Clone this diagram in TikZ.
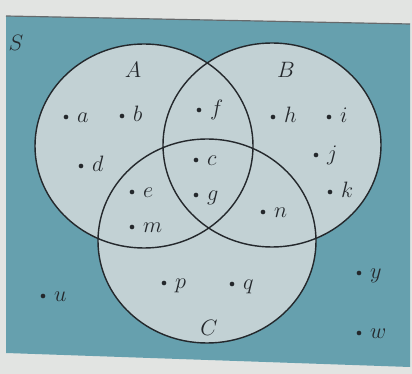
\RequirePackage{fix-cm}
\documentclass[tikz,border=0pt]{standalone}
\usetikzlibrary{positioning}

\definecolor{pagebg}{RGB}{226,228,226}
\definecolor{tealbg}{RGB}{102,160,174}
\definecolor{setfill}{RGB}{194,209,212}
\definecolor{inkline}{RGB}{36,40,44}

\begin{document}
\begin{tikzpicture}[
  x=0.03cm, y=-0.03cm,
  elem/.style={circle, fill=inkline, inner sep=0pt, minimum size=4pt},
  lbl/.style={font=\fontsize{19}{23}\selectfont, text=inkline, inner sep=0pt,
    anchor=base west},
  setname/.style={font=\fontsize{19}{23}\selectfont, text=inkline},
  outline/.style={draw=inkline, line width=1.2pt},
]
  % page and shaded universe
  \fill[pagebg] (0,0) rectangle (412,374);
  \fill[tealbg] (6,16) -- (410,24) -- (410,367) -- (6,353) -- cycle;
  \draw[inkline!70, line width=1pt] (6,16) -- (410,24);

  % the three sets
  \coordinate (cA) at (144,146);
  \coordinate (cB) at (272,145);
  \coordinate (cC) at (207,241);
  \fill[setfill] (cA) ellipse [x radius=109, y radius=102];
  \fill[setfill] (cB) ellipse [x radius=109, y radius=102];
  \fill[setfill] (cC) ellipse [x radius=109, y radius=102];
  \draw[outline] (cA) ellipse [x radius=109, y radius=102];
  \draw[outline] (cB) ellipse [x radius=109, y radius=102];
  \draw[outline] (cC) ellipse [x radius=109, y radius=102];

  \node[setname] (S) at (16,43) {$S$};
  \node[setname] (A) at (133,70) {$A$};
  \node[setname] (B) at (286,70) {$B$};
  \node[setname] (C) at (209,328) {$C$};

  % elements, each name set on a baseline just below and right of its dot
  \foreach \n/\px/\py in {a/66/117, b/122/116, f/199/110, h/273/117,
      i/329/117, d/81/166, c/196/160, j/316/155, e/132/192, g/196/195,
      k/330/192, n/263/212, m/132/227, p/164/283, q/232/284, y/359/273,
      u/43/296, w/359/333} {
    \node[elem] (\n) at (\px,\py) {};
    \node[lbl] (\n-name) at ([xshift=0.33cm, yshift=-0.18cm]\n.center) {$\n$};
  }

  \useasboundingbox (0,0) rectangle (412,374);
\end{tikzpicture}
\end{document}
